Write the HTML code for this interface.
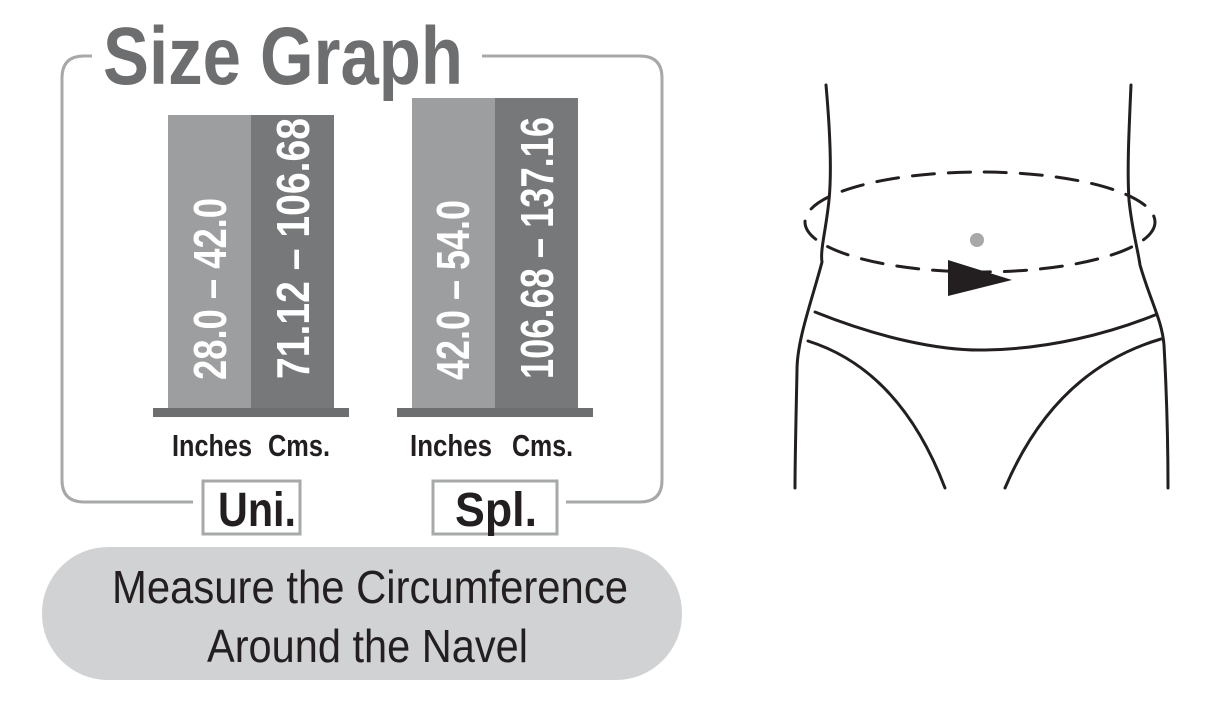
<!DOCTYPE html>
<html><head><meta charset="utf-8"><style>
html,body{margin:0;padding:0;background:#fff;}
svg{display:block;}
text{font-family:"Liberation Sans Narrow","Liberation Sans",sans-serif;}
</style></head><body>
<svg width="1220" height="703" viewBox="0 0 1220 703" xmlns="http://www.w3.org/2000/svg">
<path d="M482 56 H640 Q662 56 662 78 V480 Q662 502 640 502 H566" fill="none" stroke="#a7a8aa" stroke-width="3"/>
<path d="M193 502 H84 Q62 502 62 480 V78 Q62 56 84 56 H92" fill="none" stroke="#a7a8aa" stroke-width="3"/>
<text x="103" y="84" font-size="82" font-weight="bold" fill="#6d6e70" textLength="360" lengthAdjust="spacingAndGlyphs">Size Graph</text>
<rect x="168" y="115" width="83" height="294" fill="#9d9ea0"/>
<rect x="251" y="115" width="83" height="294" fill="#77787a"/>
<rect x="153" y="408" width="196" height="9" fill="#6d6e70"/>
<rect x="412" y="98" width="83" height="311" fill="#9d9ea0"/>
<rect x="495" y="98" width="83" height="311" fill="#77787a"/>
<rect x="397" y="408" width="196" height="9" fill="#6d6e70"/>
<g fill="#fff" font-weight="bold" font-size="46">
<text transform="translate(226,380) rotate(-90)" textLength="182" lengthAdjust="spacingAndGlyphs">28.0 – 42.0</text>
<text transform="translate(309,379) rotate(-90)" textLength="261" lengthAdjust="spacingAndGlyphs">71.12 – 106.68</text>
<text transform="translate(469,380) rotate(-90)" textLength="180" lengthAdjust="spacingAndGlyphs">42.0 – 54.0</text>
<text transform="translate(553,379) rotate(-90)" textLength="262" lengthAdjust="spacingAndGlyphs">106.68 – 137.16</text>
</g>
<g fill="#231f20" font-weight="bold" font-size="31">
<text x="172" y="456" textLength="80" lengthAdjust="spacingAndGlyphs">Inches</text>
<text x="268" y="456" textLength="62" lengthAdjust="spacingAndGlyphs">Cms.</text>
<text x="410" y="456" textLength="82" lengthAdjust="spacingAndGlyphs">Inches</text>
<text x="512" y="456" textLength="61" lengthAdjust="spacingAndGlyphs">Cms.</text>
</g>
<rect x="203" y="481" width="97" height="53" fill="none" stroke="#a7a8aa" stroke-width="3"/>
<rect x="433" y="481" width="124" height="53" fill="none" stroke="#a7a8aa" stroke-width="3"/>
<g fill="#231f20" font-weight="bold" font-size="48">
<text x="218" y="526" textLength="78" lengthAdjust="spacingAndGlyphs">Uni.</text>
<text x="455" y="526" textLength="82" lengthAdjust="spacingAndGlyphs">Spl.</text>
</g>
<rect x="42" y="547" width="640" height="133" rx="66" fill="#d1d2d4"/>
<g fill="#231f20" font-size="46">
<text x="112" y="603" textLength="516" lengthAdjust="spacingAndGlyphs">Measure the Circumference</text>
<text x="207" y="662" textLength="321" lengthAdjust="spacingAndGlyphs">Around the Navel</text>
</g>
<g fill="none" stroke="#231f20" stroke-width="3" stroke-linecap="round">
<path d="M826 85 C830 130 832 170 829 200 C826 230 820 250 822 262 C812 300 797 340 797 370 C796 420 795 460 795 488"/>
<path d="M1131 85 C1129 130 1127 170 1129 200 C1132 230 1138 250 1140 265 C1150 300 1162 320 1164 345 C1167 400 1168 450 1168 488"/>
<path d="M815 312 C880 338 940 351 985 350 C1050 349 1110 333 1155 315"/>
<path d="M808 341 Q900 370 945 488"/>
<path d="M1161 339 Q1055 370 1005 488"/>
<ellipse cx="980" cy="222" rx="175" ry="50" stroke-dasharray="22 14"/>
</g>
<circle cx="977" cy="240" r="7" fill="#a7a8aa"/>
<polygon points="948,260 1012,280 948,296" fill="#231f20"/>
</svg>
</body></html>
